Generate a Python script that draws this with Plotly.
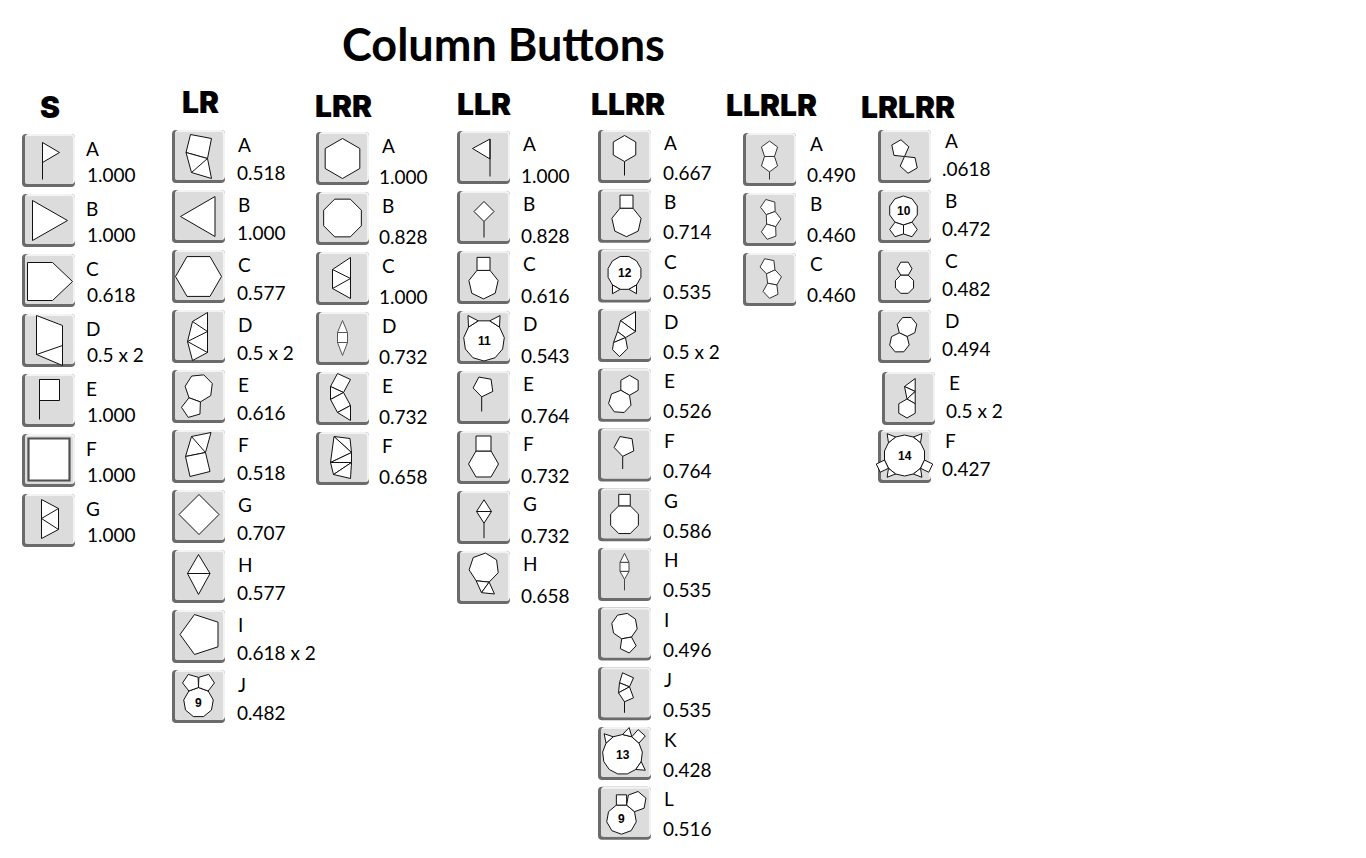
import math
import plotly.graph_objects as go

# ---------------- data ----------------
TITLE = "Column Buttons"
COLUMN_NAMES = ["S", "LR", "LRR", "LLR", "LLRR", "LLRLR", "LRLRR"]
S_KEYS = ["A", "B", "C", "D", "E", "F", "G"]
S_VALUES = ["1.000", "1.000", "0.618", "0.5 x 2", "1.000", "1.000", "1.000"]
LR_KEYS = ["A", "B", "C", "D", "E", "F", "G", "H", "I", "J"]
LR_VALUES = ["0.518", "1.000", "0.577", "0.5 x 2", "0.616", "0.518", "0.707", "0.577", "0.618 x 2", "0.482"]
LRR_KEYS = ["A", "B", "C", "D", "E", "F"]
LRR_VALUES = ["1.000", "0.828", "1.000", "0.732", "0.732", "0.658"]
LLR_KEYS = ["A", "B", "C", "D", "E", "F", "G", "H"]
LLR_VALUES = ["1.000", "0.828", "0.616", "0.543", "0.764", "0.732", "0.732", "0.658"]
LLRR_KEYS = ["A", "B", "C", "D", "E", "F", "G", "H", "I", "J", "K", "L"]
LLRR_VALUES = ["0.667", "0.714", "0.535", "0.5 x 2", "0.526", "0.764", "0.586", "0.535", "0.496", "0.535", "0.428", "0.516"]
LLRLR_KEYS = ["A", "B", "C"]
LLRLR_VALUES = ["0.490", "0.460", "0.460"]
LRLRR_KEYS = ["A", "B", "C", "D", "E", "F"]
LRLRR_VALUES = [".0618", "0.472", "0.482", "0.494", "0.5 x 2", "0.427"]
BADGE_BUTTONS = [("LR", "J"), ("LLR", "D"), ("LLRR", "C"), ("LLRR", "K"), ("LLRR", "L"), ("LRLRR", "B"), ("LRLRR", "F")]
BADGE_TEXTS = ["9", "11", "12", "13", "9", "10", "14"]

COLUMN_KEYS = [S_KEYS, LR_KEYS, LRR_KEYS, LLR_KEYS, LLRR_KEYS, LLRLR_KEYS, LRLRR_KEYS]
COLUMN_VALUES = [S_VALUES, LR_VALUES, LRR_VALUES, LLR_VALUES, LLRR_VALUES, LLRLR_VALUES, LRLRR_VALUES]

# ---------------- layout (pixel positions) ----------------
LAYOUT = {
    "S":     dict(bx=22,  by=134, pitch=60,   hx=50,  hy=107, lx=84,  ldy=14, vx=85,  vdy=40),
    "LR":    dict(bx=172, by=130, pitch=60,   hx=200, hy=102, lx=236, ldy=14, vx=235, vdy=42),
    "LRR":   dict(bx=316, by=132, pitch=60,   hx=343, hy=106, lx=380, ldy=13, vx=377, vdy=44),
    "LLR":   dict(bx=457, by=131, pitch=60,   hx=484, hy=104, lx=521, ldy=12, vx=519, vdy=44),
    "LLRR":  dict(bx=598, by=130, pitch=59.7, hx=628, hy=104, lx=662, ldy=12, vx=661, vdy=42),
    "LLRLR": dict(bx=743, by=133, pitch=60,   hx=771, hy=105, lx=808, ldy=10, vx=805, vdy=41),
    "LRLRR": dict(bx=878, by=130, pitch=60,   hx=908, hy=107, lx=943, ldy=10, vx=940, vdy=38),
}
SHIFT = {("LRLRR", "E"): (4, 2)}
BTN = 53


# ---------------- geometry helpers ----------------
def rp(c, r, n, rot):
    return [(c[0] + r * math.cos(math.radians(rot + 360.0 * k / n)),
             c[1] + r * math.sin(math.radians(rot + 360.0 * k / n))) for k in range(n)]


def cen(V):
    return (sum(p[0] for p in V) / len(V), sum(p[1] for p in V) / len(V))


def grow(V, ang, n):
    """regular n-gon built outward on the edge of V whose outward direction is nearest ang."""
    c = cen(V)
    best = None
    m = len(V)
    for k in range(m):
        a = V[k]
        b = V[(k + 1) % m]
        mx, my = (a[0] + b[0]) / 2, (a[1] + b[1]) / 2
        t = math.degrees(math.atan2(my - c[1], mx - c[0]))
        d = abs((t - ang + 180) % 360 - 180)
        if best is None or d < best[0]:
            best = (d, a, b, mx, my)
    _, a, b, mx, my = best
    s = math.dist(a, b)
    dx, dy = (b[0] - a[0]) / s, (b[1] - a[1]) / s
    nx, ny = -dy, dx
    if nx * (mx - c[0]) + ny * (my - c[1]) < 0:
        nx, ny = -nx, -ny
    ap = s / (2 * math.tan(math.pi / n))
    R = s / (2 * math.sin(math.pi / n))
    cx, cy = mx + nx * ap, my + ny * ap
    th0 = math.atan2(a[1] - cy, a[0] - cx)
    step = 2 * math.pi / n
    pb = (cx + R * math.cos(th0 + step), cy + R * math.sin(th0 + step))
    sg = 1 if math.dist(pb, b) < 0.05 * s else -1
    return [(cx + R * math.cos(th0 + sg * j * step), cy + R * math.sin(th0 + sg * j * step)) for j in range(n)]


def icon(col, key):
    P, L, badge, st = [], [], None, {}
    if col == "S":
        if key == "A":
            P = [[(-6, -18), (-6, 2), (11, -8)]]; L = [[(-6, -18), (-6, 19)]]
        elif key == "B":
            P = [[(-16, -20), (-16, 20), (19, 0)]]
        elif key == "C":
            P = [[(-21, -18), (4, -18), (24, 1), (4, 20), (-21, 20)]]
        elif key == "D":
            P = [[(-12, -25), (14, -15), (14, 25), (-12, 14)]]; L = [[(-12, 14), (14, 5)]]
        elif key == "E":
            P = [[(-9, -21), (11, -21), (11, 0), (-9, 0)]]; L = [[(-9, -21), (-9, 19)]]
        elif key == "F":
            P = [[(-20, -22), (21, -22), (21, 20), (-20, 20)]]; st = dict(width=2.2, color="#505050")
        elif key == "G":
            P = [[(-7, -21), (10, -12), (10, 9), (-7, 18)]]; L = [[(10, -12), (-7, -2), (10, 9)]]
    elif col == "LR":
        if key == "A":
            P = [[(-8, -22), (13, -18), (9, 2), (-12.5, -4)], [(-12.5, -4), (9, 2), (13, 22), (-7, 16)]]
            L = [[(9, 2), (-7, 16)]]
        elif key == "B":
            P = [[(16.5, -20), (16.5, 20), (-18, 0)]]
        elif key == "C":
            P = [rp((0, 0), 23, 6, 0)]
        elif key == "D":
            P = [[(9, -24), (-6, -15), (-11, 5), (-6, 24), (9, 16)]]
            L = [[(-6, -15), (9, -5), (-11, 5), (9, 16)]]
        elif key == "E":
            H = rp((0.5, -8.5), 14, 7, 84.3)
            P = [H, grow(H, 110, 5)]
        elif key == "F":
            P = [[(-7, -20), (12.5, -24), (7, -4), (-13, 0)], [(-13, 0), (7, -4), (11.5, 15), (-8.5, 20)]]
            L = [[(-7, -20), (7, -4)]]
        elif key == "G":
            P = [rp((0.5, -2), 20, 4, 90)]
        elif key == "H":
            P = [[(0, -22), (11.5, -3), (0, 18), (-11, -3)]]; L = [[(-11, -3), (11.5, -3)]]
        elif key == "I":
            P = [rp((2.5, -2), 21, 5, 180)]
        elif key == "J":
            N = rp((0, 6), 15, 9, -90)
            P = [N, grow(N, -70, 5), grow(N, -110, 5)]; badge = (0, 6)
    elif col == "LRR":
        if key == "A":
            P = [rp((0, 0), 20, 6, -90)]
        elif key == "B":
            P = [rp((0, -0.5), 20.4, 8, 22.5)]
        elif key == "C":
            P = [[(8, -21), (-10, -9), (-10, 10), (8, 20)]]; L = [[(-10, -9), (8, 0), (-10, 10)]]
        elif key == "D":
            P = [[(0, -18), (5, -6), (-5, -6)], [(-5, -6), (5, -6), (5, 4), (-5, 4)], [(-5, 4), (5, 4), (0, 17)]]
            st = dict(color="#555555")
        elif key == "E":
            P = [[(-5, -25), (8, -19), (1, -6), (-12, -12)], [(-12, -12), (1, -6), (-12, 1)],
                 [(-12, 1), (1, -6), (8, 7), (-5, 14)], [(-5, 14), (8, 7), (8, 22)]]
        elif key == "F":
            A, B, C, D, E, F, G = (-8.5, -22), (7.5, -20), (9, -6), (-12, 4), (9, 4), (-9, 16), (8, 20)
            P = [[A, B, C], [A, C, D], [D, C, E], [D, E, F], [F, E, G]]
    elif col == "LLR":
        if key == "A":
            P = [[(6.5, -18.5), (6.5, 1.5), (-11, -9)]]; L = [[(6.5, -18.5), (6.5, 19)]]
        elif key == "B":
            P = [rp((0.5, -6), 10, 4, -90)]; L = [[(0.5, 4), (0.5, 20)]]
        elif key == "C":
            H = rp((0, 6.4), 15, 7, -115.7)
            P = [H, grow(H, -90, 4)]
        elif key == "D":
            C = rp((0.5, 3), 20.5, 11, -73.6)
            P = [C, grow(C, -122.7, 3), grow(C, -57.3, 3)]; badge = (0.5, 3)
        elif key == "E":
            Q = rp((0, -11), 10.5, 5, 100)
            P = [Q]; L = [[Q[0], (Q[0][0], 14)]]
        elif key == "F":
            H = rp((0, 6.5), 15, 6, 0)
            P = [H, grow(H, -90, 4)]
        elif key == "G":
            P = [[(0.5, -17.7), (8, -6), (0.5, 5.7), (-7, -6)]]
            L = [[(-7, -6), (8, -6)], [(0.5, 5.7), (0.5, 20.7)]]
        elif key == "H":
            H = rp((0.5, -9.5), 15, 7, 70)
            T1 = grow(H, 95, 3)
            P = [H, T1, grow(T1, 36, 3)]
    elif col == "LLRR":
        if key == "A":
            H = rp((0, -8), 13, 6, -90)
            P = [H]; L = [[(0, 5), (0, 19)]]
        elif key == "B":
            H = rp((2, 5.5), 15, 7, -115.7)
            P = [H, grow(H, -90, 4)]
        elif key == "C":
            D12 = rp((0, -3), 17, 12, 15)
            P = [D12, grow(D12, 120, 3), grow(D12, 60, 3)]; badge = (0, -3)
        elif key == "D":
            A, B, C, D, E, F, G, H, I = (11, -24), (-4, -15), (11, -4), (-7, -4), (1, 2), (-11, 7), (-12, 14), (-5, 21), (3, 13)
            P = [[A, B, C], [B, D, E, C], [D, F, E], [F, G, H, I, E]]
        elif key == "E":
            H = rp((5, -10), 10, 6, -90)
            P = [H, grow(H, 120, 7)]
        elif key == "F":
            Q = rp((0, -9), 10.5, 5, 100)
            P = [Q]; L = [[Q[0], (Q[0][0], 14)]]
        elif key == "G":
            O = rp((0, 5), 15, 8, 22.5)
            P = [O, grow(O, -90, 4)]
        elif key == "H":
            P = [[(0, -21), (4.5, -12), (-4.5, -12)], [(-4.5, -12), (4.5, -12), (4.5, -3), (-4.5, -3)],
                 [(-4.5, -3), (4.5, -3), (0, 5)]]
            L = [[(0, 5), (0, 16)]]; st = dict(color="#444444")
        elif key == "I":
            O = rp((0, -8), 13, 8, 12.5)
            P = [O, grow(O, 80, 5)]
        elif key == "J":
            A, B, C, D, E, F, G = (-2, -21), (9, -16), (5, -7), (-5, -11), (-6, -1), (9, 4), (0, 8)
            P = [[A, B, C, D], [D, C, E], [E, C, F, G]]; L = [[G, (0, 19)]]
        elif key == "K":
            C = rp((-2, 1), 20, 13, -90)
            P = [C, grow(C, -131.5, 3), grow(C, -76, 3), grow(C, -48.5, 4), grow(C, 34.6, 3)]; badge = (-2, 1)
        elif key == "L":
            N = rp((-3, 6), 15, 9, -110)
            P = [N, grow(N, -90, 4), grow(N, -50, 6)]; badge = (-3, 6)
    elif col == "LLRLR":
        st = dict(color="#333333")
        if key == "A":
            P1 = rp((0, -9.9), 8.5, 5, -90)
            P2 = grow(P1, 90, 5)
            P = [P1, P2]; L = [[(0, 12.4), (0, 20)]]
        elif key == "B":
            P1 = rp((-1, -12.5), 8, 5, 34)
            P2 = grow(P1, 70, 5)
            P = [P1, P2, grow(P2, 106, 5)]
        elif key == "C":
            P1 = rp((-1.5, -13.5), 8, 5, 29)
            P2 = grow(P1, 65, 5)
            P = [P1, P2, grow(P2, 101, 5)]
    elif col == "LRLRR":
        if key == "A":
            P = [rp((-4.5, -7.8), 9, 5, 60), rp((4.5, 7.8), 9, 5, 240)]
        elif key == "B":
            D10 = rp((-1, -6), 14.5, 10, 90)
            P = [D10, grow(D10, 108, 5), grow(D10, 72, 5)]; badge = (-1, -6)
        elif key == "C":
            H = rp((0, -7.8), 7.5, 6, 0)
            P = [H, grow(H, 90, 8)]
        elif key == "D":
            H1 = rp((2.5, -10), 10, 7, 89.3)
            P = [H1, grow(H1, 115, 7)]
        elif key == "E":
            Hx = rp((-1.5, 10), 9.5, 6, -90)
            A, B, M, Tp, UR = (6.7, -20), (-4, -12), (6.7, -7), Hx[0], Hx[1]
            P = [[A, B, M], [B, Tp, M], [M, Tp, UR], Hx]
        elif key == "F":
            C = rp((0, -1), 20.5, 14, -90)
            P = [C, grow(C, -128.6, 3), grow(C, -51.4, 3), grow(C, 25.7, 4), grow(C, 51.4, 3),
                 grow(C, 154.3, 4), grow(C, 128.6, 3)]
            badge = (0, -1)
    return P, L, badge, st


# ---------------- drawing ----------------
def pth(pts, closed):
    s = "M" + " L".join(f"{x:.2f},{y:.2f}" for x, y in pts)
    return s + (" Z" if closed else "")


def rrect(x0, y0, x1, y1, r):
    return (f"M{x0 + r},{y0} L{x1 - r},{y0} Q{x1},{y0} {x1},{y0 + r} L{x1},{y1 - r} "
            f"Q{x1},{y1} {x1 - r},{y1} L{x0 + r},{y1} Q{x0},{y1} {x0},{y1 - r} "
            f"L{x0},{y0 + r} Q{x0},{y0} {x0 + r},{y0} Z")


shapes = []
annotations = []

annotations.append(dict(text=TITLE, x=503, y=44, xref="x", yref="y", showarrow=False,
                        xanchor="center", yanchor="middle",
                        font=dict(family="Lato", size=45, color="black", weight="bold")))

badges = {b: t for b, t in zip(BADGE_BUTTONS, BADGE_TEXTS)}

for name, keys, vals in zip(COLUMN_NAMES, COLUMN_KEYS, COLUMN_VALUES):
    g = LAYOUT[name]
    annotations.append(dict(text=name, x=g["hx"], y=g["hy"], xref="x", yref="y", showarrow=False,
                            xanchor="center", yanchor="middle",
                            font=dict(family="Inter", size=30, color="black", weight=900)))
    for i, (k, v) in enumerate(zip(keys, vals)):
        sx, sy = SHIFT.get((name, k), (0, 0))
        x0 = g["bx"] + sx
        y0 = g["by"] + i * g["pitch"] + sy
        # button body
        shapes.append(dict(type="path", path=rrect(x0, y0, x0 + BTN, y0 + BTN, 4),
                           fillcolor="#6b6b6b", line=dict(width=0), xref="x", yref="y"))
        shapes.append(dict(type="path", path=rrect(x0 + 3, y0, x0 + BTN, y0 + BTN - 3, 4),
                           fillcolor="#f3f3f3", line=dict(width=0), xref="x", yref="y"))
        shapes.append(dict(type="path", path=rrect(x0 + 3, y0 + 2, x0 + BTN - 2, y0 + BTN - 3, 2),
                           fillcolor="#dcdcdc", line=dict(width=0), xref="x", yref="y"))
        cx, cy = x0 + BTN / 2, y0 + BTN / 2
        P, L, badge, st = icon(name, k)
        lc = st.get("color", "#111111")
        lw = st.get("width", 1)
        for poly in P:
            shapes.append(dict(type="path", path=pth([(cx + px, cy + py) for px, py in poly], True),
                               fillcolor="white", line=dict(color=lc, width=lw), xref="x", yref="y"))
        for ln in L:
            shapes.append(dict(type="path", path=pth([(cx + px, cy + py) for px, py in ln], False),
                               line=dict(color=lc, width=lw), xref="x", yref="y"))
        if badge is not None and (name, k) in badges:
            annotations.append(dict(text=badges[(name, k)], x=cx + badge[0], y=cy + badge[1],
                                    xref="x", yref="y", showarrow=False, xanchor="center", yanchor="middle",
                                    font=dict(family="Liberation Sans", size=12, color="black", weight="bold")))
        annotations.append(dict(text=k, x=g["lx"] + sx, y=y0 + g["ldy"], xref="x", yref="y",
                                showarrow=False, xanchor="left", yanchor="middle",
                                font=dict(family="Lato", size=19, color="black")))
        annotations.append(dict(text=v, x=g["vx"] + sx, y=y0 + g["vdy"], xref="x", yref="y",
                                showarrow=False, xanchor="left", yanchor="middle",
                                font=dict(family="Lato", size=19, color="black")))

fig = go.Figure()
fig.update_layout(
    width=1366, height=858, margin=dict(l=0, r=0, t=0, b=0),
    paper_bgcolor="white", plot_bgcolor="white",
    xaxis=dict(range=[0, 1366], visible=False, fixedrange=True),
    yaxis=dict(range=[858, 0], visible=False, fixedrange=True),
    shapes=shapes, annotations=annotations, showlegend=False,
)
fig.write_html("out.html", config={"displayModeBar": False},
               post_script="document.body.style.margin='0';document.body.style.overflow='hidden';")
